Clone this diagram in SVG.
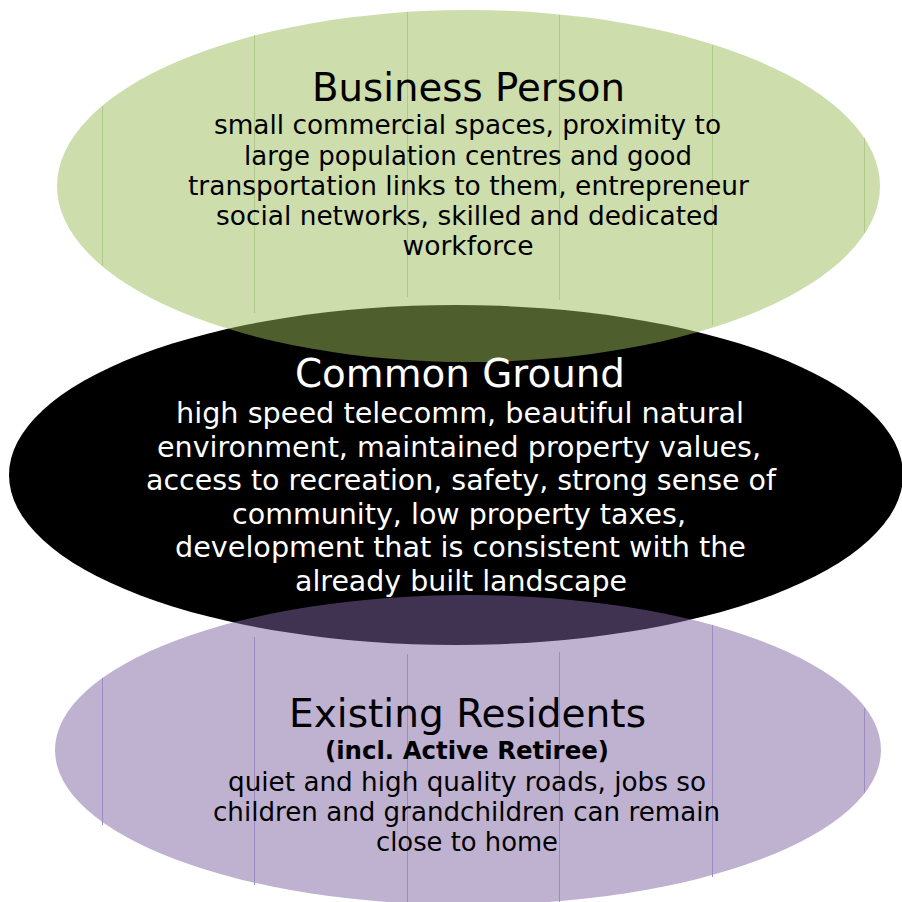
<svg xmlns="http://www.w3.org/2000/svg" width="902" height="902" viewBox="0 0 902 902">
<style>
text{font-family:"DejaVu Sans","Liberation Sans",sans-serif;text-anchor:middle}
.t{font-size:39px}
.b{font-size:26px}
.bw{font-size:28px;fill:#ffffff}
.sub{font-size:24.5px;font-weight:bold}
.dk{fill:#000000}
.gl{stroke:#b0c888;stroke-width:1}
.pl{stroke:#9d8cc2;stroke-width:1}
</style>
<rect width="902" height="902" fill="#ffffff"/>
<g id="common-ground">
<ellipse cx="456" cy="475" rx="447" ry="170" fill="#000000"/>
</g>
<g id="business-person">
<ellipse cx="468.5" cy="186" rx="411.5" ry="176" fill="#9BBB59" fill-opacity="0.5"/>
<line class="gl" x1="102.5" y1="106" x2="102.5" y2="266"/>
<line class="gl" x1="254.5" y1="35" x2="254.5" y2="313"/>
<line class="gl" x1="407.5" y1="12" x2="407.5" y2="297"/>
<line class="gl" x1="559.5" y1="15" x2="559.5" y2="300"/>
<line class="gl" x1="712.5" y1="45" x2="712.5" y2="325"/>
<line class="gl" x1="864.5" y1="138" x2="864.5" y2="233"/>
</g>
<g id="existing-residents">
<ellipse cx="468" cy="750" rx="413" ry="155" fill="#8064A2" fill-opacity="0.5"/>
<line class="pl" x1="102.5" y1="678" x2="102.5" y2="825"/>
<line class="pl" x1="254.5" y1="637" x2="254.5" y2="885"/>
<line class="pl" x1="407.5" y1="654" x2="407.5" y2="902"/>
<line class="pl" x1="559.5" y1="652" x2="559.5" y2="902"/>
<line class="pl" x1="712.5" y1="625" x2="712.5" y2="877"/>
<line class="pl" x1="864.5" y1="708" x2="864.5" y2="793"/>
</g>
<g id="connectors"></g>
<g id="business-person-text" class="dk">
<text class="t" x="468.5" y="101" textLength="313" lengthAdjust="spacingAndGlyphs">Business Person</text>
<text class="b" x="467.5" y="134" textLength="507" lengthAdjust="spacingAndGlyphs">small commercial spaces, proximity to</text>
<text class="b" x="468" y="165" textLength="448" lengthAdjust="spacingAndGlyphs">large population centres and good</text>
<text class="b" x="468.5" y="195" textLength="561" lengthAdjust="spacingAndGlyphs">transportation links to them, entrepreneur</text>
<text class="b" x="467.5" y="225" textLength="503" lengthAdjust="spacingAndGlyphs">social networks, skilled and dedicated</text>
<text class="b" x="468" y="255" textLength="131" lengthAdjust="spacingAndGlyphs">workforce</text>
</g>
<g id="common-ground-text">
<text class="t" x="460" y="387" fill="#ffffff" textLength="330" lengthAdjust="spacingAndGlyphs">Common Ground</text>
<text class="bw" x="460" y="423" textLength="568" lengthAdjust="spacingAndGlyphs">high speed telecomm, beautiful natural</text>
<text class="bw" x="459" y="456.5" textLength="604" lengthAdjust="spacingAndGlyphs">environment, maintained property values,</text>
<text class="bw" x="461" y="490" textLength="630" lengthAdjust="spacingAndGlyphs">access to recreation, safety, strong sense of</text>
<text class="bw" x="459" y="523.5" textLength="454" lengthAdjust="spacingAndGlyphs">community, low property taxes,</text>
<text class="bw" x="460.5" y="557" textLength="571" lengthAdjust="spacingAndGlyphs">development that is consistent with the</text>
<text class="bw" x="461" y="590.5" textLength="332" lengthAdjust="spacingAndGlyphs">already built landscape</text>
</g>
<g id="existing-residents-text" class="dk">
<text class="t" x="467.5" y="727" textLength="357" lengthAdjust="spacingAndGlyphs">Existing Residents</text>
<text class="sub" x="467" y="759" textLength="284" lengthAdjust="spacingAndGlyphs">(incl. Active Retiree)</text>
<text class="b" x="467" y="791" textLength="478" lengthAdjust="spacingAndGlyphs">quiet and high quality roads, jobs so</text>
<text class="b" x="466.5" y="821" textLength="507" lengthAdjust="spacingAndGlyphs">children and grandchildren can remain</text>
<text class="b" x="467" y="851" textLength="182" lengthAdjust="spacingAndGlyphs">close to home</text>
</g>
</svg>
